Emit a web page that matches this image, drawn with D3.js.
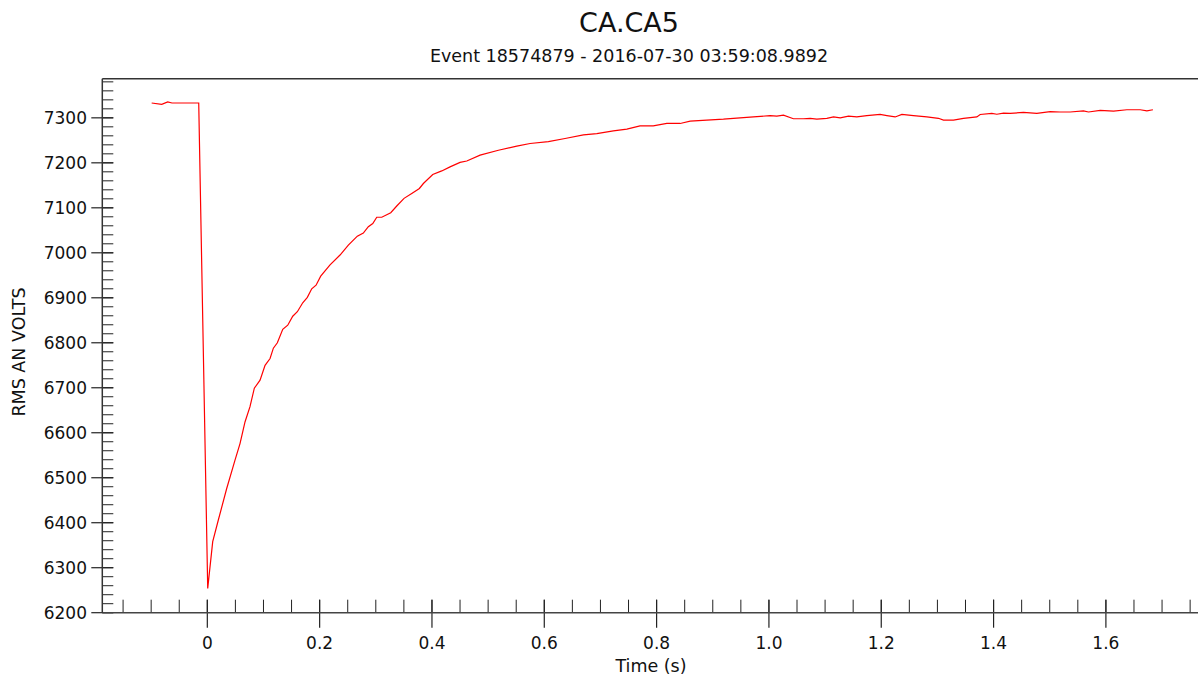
<!DOCTYPE html>
<html>
<head>
<meta charset="utf-8">
<script src="https://cdn.jsdelivr.net/npm/d3@7"></script>
<style>
  body { margin: 0; background: #fff; }
  text { font-family: "DejaVu Sans", Verdana, sans-serif; fill: #111; }
</style>
</head>
<body>
<div id="viz-container"></div>
<script>
// time (s) and rms voltage
let times = [-0.0991, -0.0812, -0.0705, -0.0629, -0.0153, 0.0007, 0.0096, 0.0196, 0.0345, 0.0493,
  0.0582, 0.0671, 0.076, 0.0837, 0.0939, 0.1028, 0.1117, 0.1176, 0.1247, 0.1343,
  0.1432, 0.1521, 0.1603, 0.1699, 0.1781, 0.1859, 0.1936, 0.2019, 0.2185, 0.2363,
  0.2511, 0.2671, 0.2778, 0.2867, 0.2946, 0.3017, 0.3106, 0.3266, 0.3373, 0.3503,
  0.364, 0.3776, 0.3847, 0.4014, 0.4174, 0.4322, 0.45, 0.462, 0.4857, 0.5183,
  0.551, 0.5747, 0.6073, 0.637, 0.6697, 0.6935, 0.723, 0.747, 0.7705, 0.794,
  0.8182, 0.8419, 0.8597, 0.8894, 0.919, 0.9368, 0.9724, 1.0021, 1.014, 1.0259,
  1.0436, 1.0614, 1.0734, 1.0853, 1.1031, 1.115, 1.127, 1.1416, 1.1565, 1.1743,
  1.198, 1.21, 1.2248, 1.2367, 1.2573, 1.2812, 1.3018, 1.3108, 1.3286, 1.3464,
  1.3702, 1.3761, 1.3969, 1.4058, 1.4176, 1.4295, 1.4532, 1.477, 1.5008, 1.5186,
  1.5364, 1.5601, 1.569, 1.5899, 1.6136, 1.6374, 1.6611, 1.673, 1.6837];
let volts = [7333, 7330, 7335.5, 7333, 7333, 6254, 6358, 6406, 6476, 6539,
  6576, 6624, 6658, 6699, 6717, 6750, 6765, 6788, 6800, 6830,
  6839, 6859, 6869, 6889, 6901, 6920, 6928, 6948, 6973, 6995,
  7017, 7037, 7044, 7058, 7065, 7079, 7079, 7089, 7104, 7121,
  7132, 7143, 7154, 7174, 7182, 7191, 7201, 7204, 7217, 7228,
  7237, 7243, 7247, 7254, 7262, 7265, 7271, 7275, 7282, 7282,
  7287.5, 7287.5, 7292.5, 7295, 7297, 7299, 7302, 7305, 7304, 7306,
  7298, 7298, 7299, 7297, 7299, 7302, 7300, 7304, 7302, 7305,
  7307.5, 7305, 7302, 7307.5, 7305, 7302, 7299, 7295, 7295, 7299,
  7302, 7307.5, 7310, 7308, 7310.5, 7310, 7312, 7310, 7314, 7313,
  7313, 7315.5, 7313, 7316.5, 7315, 7318, 7318, 7315.5, 7318];

let xTicks = [0, 0.2, 0.4, 0.6, 0.8, 1.0, 1.2, 1.4, 1.6];
let xTickLabels = ["0", "0.2", "0.4", "0.6", "0.8", "1.0", "1.2", "1.4", "1.6"];
let yTicks = [6200, 6300, 6400, 6500, 6600, 6700, 6800, 6900, 7000, 7100, 7200, 7300];
let yTickLabels = ["6200", "6300", "6400", "6500", "6600", "6700", "6800", "6900", "7000", "7100", "7200", "7300"];

let W = 1198, H = 679;
let plotL = 102.3, plotR = 1198, plotT = 78.7, plotB = 612.7;

let viz = d3.select("#viz-container")
    .append("svg")
        .attr("width", W)
        .attr("height", H);

let x = d3.scaleLinear().domain([-0.187, 1.764]).range([plotL, plotR]);
let y = d3.scaleLinear().domain([6200, 7387]).range([plotB, plotT]);

// titles
viz.append("text").text("CA.CA5")
    .attr("x", 629).attr("y", 31.5)
    .attr("text-anchor", "middle")
    .attr("font-size", "27px");
viz.append("text").text("Event 18574879 - 2016-07-30 03:59:08.9892")
    .attr("x", 629).attr("y", 61.5)
    .attr("text-anchor", "middle")
    .attr("font-size", "17.5px");

// minor ticks
let xMinor = d3.range(-0.15, 1.76, 0.05);
viz.selectAll(".xMinor").data(xMinor).enter().append("line")
    .attr("class", "xMinor")
    .attr("x1", d => x(d)).attr("x2", d => x(d))
    .attr("y1", plotB - 13).attr("y2", plotB)
    .attr("stroke", "#222").attr("stroke-width", 1);
let yMinor = d3.range(6200, 7390, 20);
viz.selectAll(".yMinor").data(yMinor).enter().append("line")
    .attr("class", "yMinor")
    .attr("x1", plotL).attr("x2", plotL + 11)
    .attr("y1", d => y(d)).attr("y2", d => y(d))
    .attr("stroke", "#222").attr("stroke-width", 1);

// major ticks
viz.selectAll(".xMajor").data(xTicks).enter().append("line")
    .attr("class", "xMajor")
    .attr("x1", d => x(d)).attr("x2", d => x(d))
    .attr("y1", plotB - 13).attr("y2", plotB + 15)
    .attr("stroke", "#222").attr("stroke-width", 1.2);
viz.selectAll(".yMajor").data(yTicks).enter().append("line")
    .attr("class", "yMajor")
    .attr("x1", plotL - 11).attr("x2", plotL + 11)
    .attr("y1", d => y(d)).attr("y2", d => y(d))
    .attr("stroke", "#222").attr("stroke-width", 1.2);

// tick labels
viz.selectAll(".xLabel").data(xTicks).enter().append("text")
    .attr("class", "xLabel")
    .text((d, i) => xTickLabels[i])
    .attr("x", d => x(d)).attr("y", 648.5)
    .attr("text-anchor", "middle")
    .attr("font-size", "17px");
viz.selectAll(".yLabel").data(yTicks).enter().append("text")
    .attr("class", "yLabel")
    .text((d, i) => yTickLabels[i])
    .attr("x", 87).attr("y", d => y(d))
    .attr("dy", "0.36em")
    .attr("text-anchor", "end")
    .attr("font-size", "17px");

// axis lines + top frame
viz.append("line")
    .attr("x1", plotL).attr("x2", plotR).attr("y1", plotB).attr("y2", plotB)
    .attr("stroke", "#444").attr("stroke-width", 1.5);
viz.append("line")
    .attr("x1", plotL).attr("x2", plotR).attr("y1", plotT).attr("y2", plotT)
    .attr("stroke", "#333").attr("stroke-width", 1.5);
viz.append("line")
    .attr("x1", plotL).attr("x2", plotL).attr("y1", plotT).attr("y2", plotB)
    .attr("stroke", "#333").attr("stroke-width", 1.5);

// axis titles
viz.append("text").text("Time (s)")
    .attr("x", 651).attr("y", 672)
    .attr("text-anchor", "middle")
    .attr("font-size", "17.5px");
viz.append("text").text("RMS AN VOLTS")
    .attr("transform", "translate(25,352) rotate(-90)")
    .attr("text-anchor", "middle")
    .attr("font-size", "17.5px");

// the trace
let pts = times.map((t, i) => [t, volts[i]]);
let line = d3.line().x(d => x(d[0])).y(d => y(d[1]));
viz.append("path")
    .datum(pts)
    .attr("d", line)
    .attr("fill", "none")
    .attr("stroke", "#ff0000")
    .attr("stroke-width", 1.2);
</script>
</body>
</html>
